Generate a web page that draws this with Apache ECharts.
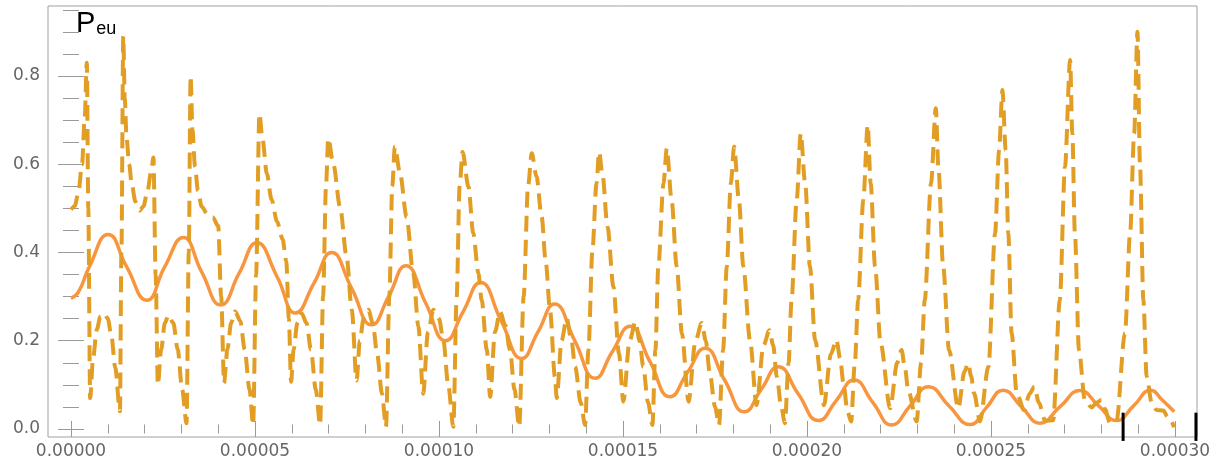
<!DOCTYPE html>
<html>
<head>
<meta charset="utf-8">
<script src="https://cdn.jsdelivr.net/npm/echarts@6/dist/echarts.min.js"></script>
<style>
html,body{margin:0;padding:0;background:#fff;}
#chart{width:1228px;height:463px;}
</style>
</head>
<body>
<div id="chart"></div>
<script>
// ---- data (x in seconds, y = P_eu) ----
const dashX = [0,0.1e-5,0.2e-5,0.3e-5,0.37e-5,0.43e-5,0.47e-5,0.52e-5,0.6e-5,0.7e-5,0.8e-5,0.9e-5,1.0e-5,1.1e-5,1.2e-5,1.33e-5,1.37e-5,1.42e-5,1.46e-5,1.51e-5,1.58e-5,1.65e-5,1.75e-5,1.87e-5,1.97e-5,2.08e-5,2.18e-5,2.24e-5,2.3e-5,2.36e-5,2.45e-5,2.55e-5,2.65e-5,2.78e-5,2.9e-5,3.02e-5,3.14e-5,3.2e-5,3.25e-5,3.3e-5,3.37e-5,3.45e-5,3.55e-5,3.7e-5,3.85e-5,4.0e-5,4.08e-5,4.16e-5,4.25e-5,4.35e-5,4.46e-5,4.6e-5,4.72e-5,4.85e-5,4.95e-5,5.03e-5,5.12e-5,5.2e-5,5.32e-5,5.45e-5,5.6e-5,5.75e-5,5.85e-5,5.92e-5,5.98e-5,6.05e-5,6.15e-5,6.27e-5,6.4e-5,6.52e-5,6.65e-5,6.77e-5,6.85e-5,6.93e-5,6.99e-5,7.13e-5,7.31e-5,7.49e-5,7.63e-5,7.76e-5,7.85e-5,7.95e-5,8.08e-5,8.2e-5,8.32e-5,8.45e-5,8.56e-5,8.65e-5,8.73e-5,8.8e-5,8.94e-5,9.12e-5,9.3e-5,9.44e-5,9.57e-5,9.7e-5,9.85e-5,10.0e-5,10.12e-5,10.25e-5,10.39e-5,10.48e-5,10.56e-5,10.64e-5,10.8e-5,10.93e-5,11.07e-5,11.16e-5,11.3e-5,11.39e-5,11.52e-5,11.66e-5,11.8e-5,11.93e-5,12.05e-5,12.18e-5,12.3e-5,12.42e-5,12.52e-5,12.65e-5,12.79e-5,12.9e-5,13.02e-5,13.15e-5,13.2e-5,13.33e-5,13.47e-5,13.6e-5,13.7e-5,13.85e-5,13.97e-5,14.06e-5,14.17e-5,14.28e-5,14.35e-5,14.44e-5,14.58e-5,14.74e-5,14.89e-5,15.01e-5,15.18e-5,15.34e-5,15.45e-5,15.55e-5,15.68e-5,15.8e-5,15.88e-5,15.96e-5,16.1e-5,16.19e-5,16.32e-5,16.46e-5,16.6e-5,16.78e-5,16.97e-5,17.14e-5,17.25e-5,17.36e-5,17.5e-5,17.61e-5,17.72e-5,17.82e-5,17.93e-5,18.02e-5,18.15e-5,18.27e-5,18.45e-5,18.63e-5,18.82e-5,18.98e-5,19.08e-5,19.18e-5,19.3e-5,19.4e-5,19.5e-5,19.58e-5,19.72e-5,19.83e-5,19.95e-5,20.08e-5,20.22e-5,20.46e-5,20.65e-5,20.8e-5,20.9e-5,20.99e-5,21.1e-5,21.2e-5,21.3e-5,21.39e-5,21.53e-5,21.65e-5,21.73e-5,21.85e-5,22.0e-5,22.26e-5,22.45e-5,22.57e-5,22.66e-5,22.75e-5,22.98e-5,23.1e-5,23.2e-5,23.37e-5,23.5e-5,23.57e-5,23.7e-5,23.86e-5,24.11e-5,24.28e-5,24.38e-5,24.46e-5,24.54e-5,24.7e-5,24.93e-5,25.11e-5,25.22e-5,25.31e-5,25.4e-5,25.47e-5,25.56e-5,25.7e-5,25.9e-5,26.05e-5,26.18e-5,26.3e-5,26.47e-5,26.69e-5,26.87e-5,27.01e-5,27.15e-5,27.21e-5,27.28e-5,27.39e-5,27.55e-5,27.73e-5,27.88e-5,28.0e-5,28.1e-5,28.23e-5,28.41e-5,28.64e-5,28.78e-5,28.89e-5,28.98e-5,29.05e-5,29.14e-5,29.23e-5,29.37e-5,29.5e-5,29.68e-5,29.8e-5,29.98e-5];
const dashY = [0.497,0.505,0.535,0.6,0.7,0.83,0.5,0.07,0.16,0.225,0.255,0.262,0.25,0.21,0.14,0.04,0.4,0.89,0.75,0.66,0.6,0.555,0.515,0.495,0.505,0.54,0.585,0.615,0.35,0.1,0.18,0.24,0.258,0.24,0.18,0.09,0.013,0.4,0.80,0.68,0.594,0.54,0.504,0.488,0.48,0.46,0.3,0.104,0.18,0.24,0.266,0.245,0.18,0.09,0.009,0.35,0.715,0.66,0.58,0.52,0.47,0.43,0.38,0.25,0.107,0.18,0.24,0.262,0.24,0.18,0.09,0.009,0.3,0.55,0.659,0.6,0.504,0.39,0.27,0.11,0.2,0.25,0.27,0.24,0.17,0.08,0.005,0.3,0.55,0.64,0.58,0.48,0.353,0.232,0.08,0.22,0.27,0.25,0.2,0.1,0.005,0.3,0.55,0.628,0.549,0.444,0.353,0.292,0.179,0.073,0.22,0.266,0.235,0.179,0.09,0.005,0.3,0.55,0.625,0.572,0.481,0.379,0.266,0.118,0.07,0.2,0.251,0.2,0.141,0.06,0.009,0.179,0.406,0.557,0.628,0.579,0.458,0.322,0.171,0.062,0.2,0.243,0.2,0.141,0.06,0.009,0.179,0.368,0.557,0.636,0.519,0.368,0.217,0.062,0.2,0.24,0.2,0.126,0.05,0.009,0.179,0.368,0.557,0.64,0.519,0.368,0.202,0.054,0.19,0.224,0.19,0.119,0.05,0.013,0.15,0.292,0.519,0.67,0.557,0.368,0.202,0.054,0.17,0.202,0.16,0.104,0.04,0.017,0.15,0.292,0.519,0.689,0.557,0.368,0.194,0.047,0.15,0.179,0.14,0.088,0.017,0.15,0.292,0.557,0.727,0.594,0.368,0.179,0.047,0.13,0.149,0.12,0.081,0.017,0.141,0.443,0.632,0.768,0.632,0.443,0.217,0.081,0.043,0.08,0.096,0.06,0.019,0.02,0.292,0.594,0.836,0.67,0.443,0.179,0.066,0.049,0.06,0.066,0.045,0.014,0.018,0.217,0.443,0.67,0.90,0.594,0.292,0.119,0.058,0.043,0.042,0.028,0.004];

const solidX = [0,0.2e-5,0.5e-5,1.01e-5,1.51e-5,2.06e-5,2.55e-5,3.05e-5,3.55e-5,4.07e-5,4.57e-5,5.05e-5,5.6e-5,6.1e-5,6.6e-5,7.08e-5,7.62e-5,8.17e-5,8.63e-5,9.1e-5,9.64e-5,10.18e-5,10.65e-5,11.13e-5,11.69e-5,12.25e-5,12.69e-5,13.14e-5,13.69e-5,14.24e-5,14.71e-5,15.19e-5,15.73e-5,16.28e-5,16.75e-5,17.23e-5,17.76e-5,18.3e-5,18.76e-5,19.22e-5,19.76e-5,20.31e-5,20.8e-5,21.28e-5,21.79e-5,22.3e-5,22.8e-5,23.3e-5,23.86e-5,24.43e-5,24.88e-5,25.33e-5,25.83e-5,26.33e-5,26.87e-5,27.42e-5,27.92e-5,28.41e-5,28.88e-5,29.34e-5,29.66e-5,29.98e-5];
const solidY = [0.296,0.31,0.368,0.441,0.368,0.292,0.368,0.434,0.356,0.281,0.353,0.422,0.345,0.263,0.33,0.40,0.32,0.236,0.30,0.37,0.285,0.2,0.265,0.332,0.245,0.16,0.22,0.283,0.2,0.115,0.175,0.233,0.153,0.073,0.128,0.183,0.111,0.039,0.09,0.141,0.08,0.019,0.065,0.111,0.06,0.009,0.052,0.096,0.052,0.01,0.049,0.088,0.05,0.013,0.05,0.087,0.053,0.019,0.053,0.088,0.065,0.039];

const markerX = [0.0002859, 0.0003057];
const markerY = [-0.027, 0.037];

const xMajorTicks = [0, 0.00005, 0.0001, 0.00015, 0.0002, 0.00025, 0.0003];
const yMajorTicks = [0, 0.2, 0.4, 0.6, 0.8];
const xMinorTicks = [];
for (let i = 1; i < 30; i++) if (i % 5) xMinorTicks.push(i * 1e-5);
const yMinorTicks = [];
for (let i = 1; i < 20; i++) if (i % 4) yMinorTicks.push(i * 0.05);

const X_MIN = -0.625e-5, X_MAX = 30.598e-5;
const Y_MIN = -0.01813, Y_MAX = 0.9586;

const tickColor = '#9a9a9a';
const labelStyle = {color: '#666', fontSize: 17, fontFamily: 'DejaVu Sans'};

function xAx(pos, vals, len, label) {
  return {
    type: 'value', position: pos, min: X_MIN, max: X_MAX,
    axisLine: {show: false}, splitLine: {show: false},
    axisTick: {show: true, inside: true, length: len, customValues: vals, lineStyle: {color: tickColor, width: 1}},
    axisLabel: Object.assign({show: label, customValues: vals, margin: 6,
      formatter: v => v.toFixed(5)}, labelStyle)
  };
}
function yAx(pos, vals, len, label) {
  return {
    type: 'value', position: pos, min: Y_MIN, max: Y_MAX,
    axisLine: {show: false}, splitLine: {show: false},
    axisTick: {show: true, inside: true, length: len, customValues: vals, lineStyle: {color: tickColor, width: 1}},
    axisLabel: Object.assign({show: label, customValues: vals, margin: 8,
      formatter: v => v.toFixed(1)}, labelStyle)
  };
}

const chart = echarts.init(document.getElementById('chart'), null, {renderer: 'canvas'});
const zip = (xs, ys) => xs.map((x, i) => [x, ys[i]]);

chart.setOption({
  animation: false,
  backgroundColor: '#fff',
  title: {
    text: '{p|P}{s|eu}', left: 76, top: 9, padding: 0,
    textStyle: {fontWeight: 'normal', rich: {
      p: {fontSize: 29, fontFamily: 'Liberation Sans', fontWeight: 'normal', color: '#000', verticalAlign: 'bottom'},
      s: {fontSize: 18, fontFamily: 'Liberation Sans', fontWeight: 'normal', color: '#000', verticalAlign: 'bottom', padding: [0, 0, 0, 1]}
    }}
  },
  grid: {left: 48, right: 31, top: 6, bottom: 26, show: true, borderColor: '#a0a0a0', borderWidth: 1, backgroundColor: 'transparent'},
  xAxis: [
    xAx('bottom', xMajorTicks, 8, true),
    xAx('bottom', xMinorTicks, 4.5, false),
    xAx('top', xMajorTicks, 8, false),
    xAx('top', xMinorTicks, 4.5, false)
  ],
  yAxis: [
    yAx('left', yMajorTicks, 13, true),
    yAx('left', yMinorTicks, 8, false),
    yAx('right', yMajorTicks, 13, false),
    yAx('right', yMinorTicks, 8, false)
  ],
  series: [
    {type: 'line', name: 'solid', data: zip(solidX, solidY), xAxisIndex: 0, yAxisIndex: 0,
     smooth: 0.5, symbol: 'none', lineStyle: {color: '#F8963F', width: 3.5}, z: 2},
    {type: 'line', name: 'dashed', data: zip(dashX, dashY), xAxisIndex: 0, yAxisIndex: 0,
     smooth: 0.3, smoothMonotone: 'x', symbol: 'none',
     lineStyle: {color: '#E29D24', width: 4, type: [16, 8]}, z: 3},
    {type: 'line', name: 'm1', data: [[markerX[0], markerY[0]], [markerX[0], markerY[1]]], clip: false,
     symbol: 'none', lineStyle: {color: '#000', width: 3}, z: 5},
    {type: 'line', name: 'm2', data: [[markerX[1], markerY[0]], [markerX[1], markerY[1]]], clip: false,
     symbol: 'none', lineStyle: {color: '#000', width: 3}, z: 5}
  ]
});
</script>
</body>
</html>
